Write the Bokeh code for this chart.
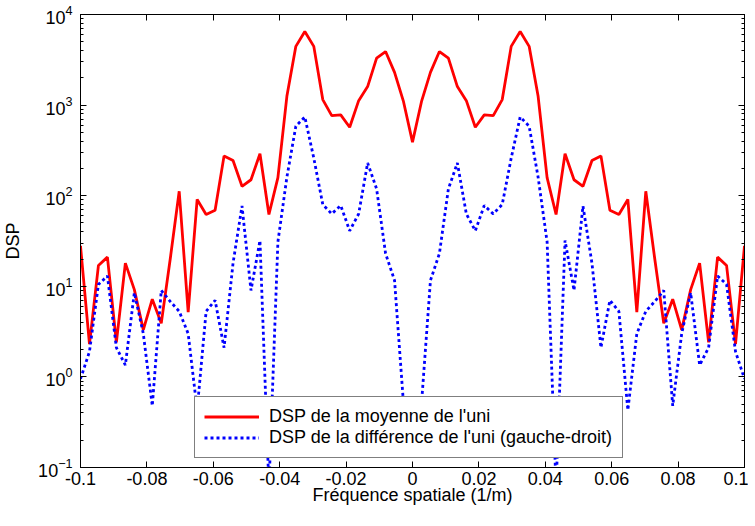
from bokeh.plotting import figure
from bokeh.models import (LinearAxis, LogAxis, FixedTicker, CustomJSTickFormatter,
                          LogTickFormatter, Legend, LegendItem, Range1d, ColumnDataSource)
from bokeh.embed import file_html
from bokeh.resources import INLINE

FONT = "Liberation Sans"

# spatial frequency grid (1/m), step 1/370
freq = [k / 370 for k in range(-37, 38)]

dsp_moyenne = [28, 2.3, 17, 21, 2.4, 18, 9.2, 3.3, 7.2, 3.9, 20, 112, 5.2, 91, 62, 69,
               275, 245, 127, 150, 290, 62, 158, 1250, 4450, 6500, 4450, 1150, 765, 780,
               570, 1120, 1600, 3300, 3900, 2300, 1090,
               390,
               1090, 2300, 3900, 3300, 1600, 1120, 570, 780, 765, 1150, 4450, 6500, 4450,
               1250, 158, 62, 290, 150, 127, 245, 275, 69, 62, 91, 5.2, 112, 20, 3.9, 7.2,
               3.3, 9.2, 18, 2.4, 21, 17, 2.3, 28]

dsp_difference = [0.95, 1.9, 10.5, 13, 2.1, 1.35, 8.5, 3.0, 0.48, 9, 6.8, 5.3, 3.0, 0.43,
                  5.3, 7, 2.1, 18, 77, 9, 32, 0.06, 31, 160, 585, 740, 260, 80, 63, 78, 41,
                  63, 230, 119, 23, 11.6, 0.5,
                  0.2,
                  0.5, 11.6, 23, 119, 230, 63, 41, 78, 63, 80, 260, 740, 585, 160, 31, 0.06,
                  32, 9, 77, 18, 2.1, 7, 5.3, 0.43, 3.0, 5.3, 6.8, 9, 0.48, 3.0, 8.5, 1.35,
                  2.1, 13, 10.5, 1.9, 0.95]

xticks = [-0.1, -0.08, -0.06, -0.04, -0.02, 0, 0.02, 0.04, 0.06, 0.08, 0.1]
xtick_labels = ["-0.1", "-0.08", "-0.06", "-0.04", "-0.02", "0", "0.02", "0.04", "0.06", "0.08", "0.1"]
yticks = [0.1, 1, 10, 100, 1000, 10000]
yminor = [m * 10.0 ** e for e in range(-1, 4) for m in range(2, 10)]

label_moy = "DSP de la moyenne de l'uni"
label_diff = "DSP de la différence de l'uni (gauche-droit)"

src = ColumnDataSource(data=dict(f=freq, moy=dsp_moyenne, diff=dsp_difference))

p = figure(frame_width=664, frame_height=453,
           x_range=Range1d(-0.1, 0.1), y_range=Range1d(0.1, 1e4),
           y_axis_type="log", output_backend="svg", toolbar_location=None,
           min_border_left=71, min_border_top=14, min_border_right=4, min_border_bottom=30,
           background_fill_color="white", border_fill_color="white")
p.grid.visible = False
p.outline_line_color = "black"
p.outline_line_width = 1

r1 = p.line("f", "moy", source=src, line_color="#ff0000", line_width=2.8)
r2 = p.line("f", "diff", source=src, line_color="#0000ff", line_width=2.8, line_dash="3 3")

xticker = FixedTicker(ticks=xticks, minor_ticks=[])
yticker = FixedTicker(ticks=yticks, minor_ticks=yminor)

xfmt = CustomJSTickFormatter(args=dict(vals=xticks, labels=xtick_labels), code="""
let best = 0; let bd = 1e9;
for (let i = 0; i < vals.length; i++) { const d = Math.abs(vals[i] - tick); if (d < bd) { bd = d; best = i; } }
return labels[best];
""")
empty = CustomJSTickFormatter(code="return '';")

def style(ax, labels=True):
    ax.axis_line_color = "black"
    ax.major_tick_line_color = "black"
    ax.minor_tick_line_color = "black"
    ax.major_tick_in = 6
    ax.major_tick_out = 0
    ax.minor_tick_in = 3
    ax.minor_tick_out = 0
    ax.major_label_text_font = FONT
    ax.major_label_text_font_size = "18px"
    ax.major_label_text_color = "black"
    ax.axis_label_text_font = FONT
    ax.axis_label_text_font_size = "18px"
    ax.axis_label_text_font_style = "normal"
    ax.axis_label_text_color = "black"
    if not labels:
        ax.major_label_standoff = 0

xa = p.xaxis[0]
xa.ticker = xticker
xa.formatter = xfmt
style(xa)
xa.major_label_standoff = 4
xa.axis_label = "Fréquence spatiale (1/m)"
xa.axis_label_standoff = -3

ya = p.yaxis[0]
ya.ticker = yticker
ya.formatter = LogTickFormatter()
style(ya)
ya.major_label_standoff = 8
ya.axis_label = "DSP"
ya.axis_label_standoff = 12

top = LinearAxis(ticker=xticker, formatter=empty)
style(top, labels=False)
p.add_layout(top, "above")

right = LogAxis(ticker=yticker, formatter=empty)
style(right, labels=False)
p.add_layout(right, "right")

legend = Legend(items=[LegendItem(label=label_moy, renderers=[r1]),
                       LegendItem(label=label_diff, renderers=[r2])],
                location=(114, 9), padding=9, spacing=0, margin=0,
                label_height=21, glyph_height=21, glyph_width=55,
                label_standoff=10, label_width=344,
                border_line_color="black", border_line_width=1,
                background_fill_color="white", background_fill_alpha=1,
                label_text_font=FONT, label_text_font_size="18px",
                label_text_color="black")
p.add_layout(legend)

open("out.html", "w").write(file_html(p, INLINE))
